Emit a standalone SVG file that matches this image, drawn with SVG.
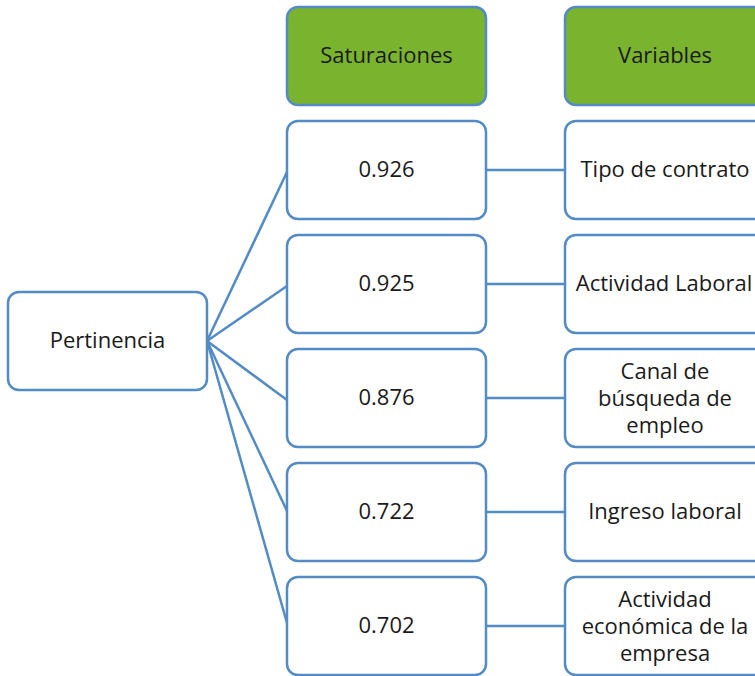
<svg xmlns="http://www.w3.org/2000/svg" width="755" height="676" viewBox="0 0 755 676">
  <style>
    .box { fill: #ffffff; stroke: #528bc5; stroke-width: 2.5; }
    .head { fill: #7ab32e; stroke: #528bc5; stroke-width: 2.5; }
    .link { stroke: #528bc5; stroke-width: 2.5; fill: none; }
    text { font-family: "Open Sans", "Liberation Sans", sans-serif; font-size: 22px; fill: #1a1a1a; text-anchor: middle; }
  </style>
  <rect width="755" height="676" fill="#ffffff"/>

  <!-- connectors -->
  <g id="connectors">
    <line class="link" x1="207" y1="341" x2="287" y2="172"/>
    <line class="link" x1="207" y1="341" x2="287" y2="286"/>
    <line class="link" x1="207" y1="341" x2="287" y2="400"/>
    <line class="link" x1="207" y1="341" x2="287" y2="511"/>
    <line class="link" x1="207" y1="341" x2="287" y2="623"/>
    <line class="link" x1="486" y1="170" x2="565" y2="170"/>
    <line class="link" x1="486" y1="284" x2="565" y2="284"/>
    <line class="link" x1="486" y1="398" x2="565" y2="398"/>
    <line class="link" x1="486" y1="512" x2="565" y2="512"/>
    <line class="link" x1="486" y1="626" x2="565" y2="626"/>
  </g>

  <!-- root -->
  <g id="pertinencia">
    <rect class="box" x="8" y="292" width="199" height="98" rx="11"/>
    <text x="107.5" y="348">Pertinencia</text>
  </g>

  <!-- column headers -->
  <g id="hdr-saturaciones">
    <rect class="head" x="287" y="7" width="199" height="98" rx="11"/>
    <text x="386.5" y="63">Saturaciones</text>
  </g>
  <g id="hdr-variables">
    <rect class="head" x="565" y="7" width="200" height="98" rx="11"/>
    <text x="665" y="63">Variables</text>
  </g>

  <!-- loadings -->
  <g id="sat-1">
    <rect class="box" x="287" y="121" width="199" height="98" rx="11"/>
    <text x="386.5" y="177">0.926</text>
  </g>
  <g id="sat-2">
    <rect class="box" x="287" y="235" width="199" height="98" rx="11"/>
    <text x="386.5" y="291">0.925</text>
  </g>
  <g id="sat-3">
    <rect class="box" x="287" y="349" width="199" height="98" rx="11"/>
    <text x="386.5" y="405">0.876</text>
  </g>
  <g id="sat-4">
    <rect class="box" x="287" y="463" width="199" height="98" rx="11"/>
    <text x="386.5" y="519">0.722</text>
  </g>
  <g id="sat-5">
    <rect class="box" x="287" y="577" width="199" height="98" rx="11"/>
    <text x="386.5" y="633">0.702</text>
  </g>

  <!-- variables -->
  <g id="var-1">
    <rect class="box" x="565" y="121" width="200" height="98" rx="11"/>
    <text x="665" y="177">Tipo de contrato</text>
  </g>
  <g id="var-2">
    <rect class="box" x="565" y="235" width="200" height="98" rx="11"/>
    <text x="664" y="291">Actividad Laboral</text>
  </g>
  <g id="var-3">
    <rect class="box" x="565" y="349" width="200" height="98" rx="11"/>
    <text x="665" y="379">Canal de</text>
    <text x="665" y="406">búsqueda de</text>
    <text x="665" y="433">empleo</text>
  </g>
  <g id="var-4">
    <rect class="box" x="565" y="463" width="200" height="98" rx="11"/>
    <text x="665" y="519">Ingreso laboral</text>
  </g>
  <g id="var-5">
    <rect class="box" x="565" y="577" width="200" height="98" rx="11"/>
    <text x="665" y="607">Actividad</text>
    <text x="665" y="634">económica de la</text>
    <text x="665" y="661">empresa</text>
  </g>
</svg>
